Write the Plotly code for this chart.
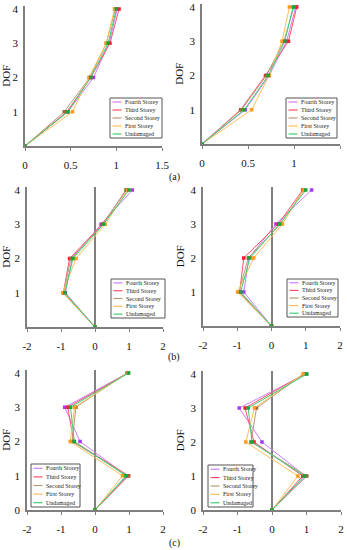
import plotly.graph_objects as go

W, H = 347, 550

series = ["Fourth Storey", "Third Storey", "Second Storey", "First Storey", "Undamaged"]
dof = [0, 1, 2, 3, 4]

a_left = {
    "Fourth Storey": [0, 0.47, 0.75, 0.92, 1.01],
    "Third Storey": [0, 0.46, 0.72, 0.93, 1.03],
    "Second Storey": [0, 0.43, 0.71, 0.89, 0.99],
    "First Storey": [0, 0.52, 0.70, 0.89, 0.98],
    "Undamaged": [0, 0.47, 0.72, 0.91, 1.00],
}
a_right = {
    "Fourth Storey": [0, 0.47, 0.73, 0.92, 1.02],
    "Third Storey": [0, 0.42, 0.69, 0.94, 1.03],
    "Second Storey": [0, 0.43, 0.70, 0.89, 1.00],
    "First Storey": [0, 0.54, 0.73, 0.87, 0.95],
    "Undamaged": [0, 0.46, 0.72, 0.90, 0.99],
}
b_left = {
    "Fourth Storey": [0, -0.87, -0.67, 0.18, 1.10],
    "Third Storey": [0, -0.93, -0.75, 0.22, 0.93],
    "Second Storey": [0, -0.92, -0.71, 0.24, 0.91],
    "First Storey": [0, -0.95, -0.56, 0.30, 0.96],
    "Undamaged": [0, -0.89, -0.65, 0.25, 1.00],
}
b_right = {
    "Fourth Storey": [0, -0.81, -0.66, 0.13, 1.17],
    "Third Storey": [0, -0.93, -0.81, 0.20, 0.91],
    "Second Storey": [0, -0.95, -0.68, 0.26, 0.95],
    "First Storey": [0, -0.99, -0.52, 0.32, 0.93],
    "Undamaged": [0, -0.90, -0.63, 0.24, 1.00],
}
c_left = {
    "Fourth Storey": [0, 0.94, -0.44, -0.89, 0.97],
    "Third Storey": [0, 0.99, -0.63, -0.80, 0.97],
    "Second Storey": [0, 0.97, -0.67, -0.56, 0.94],
    "First Storey": [0, 0.81, -0.73, -0.60, 0.97],
    "Undamaged": [0, 0.91, -0.61, -0.72, 0.99],
}
c_right = {
    "Fourth Storey": [0, 0.97, -0.29, -0.95, 0.99],
    "Third Storey": [0, 0.89, -0.52, -0.78, 0.94],
    "Second Storey": [0, 1.01, -0.61, -0.45, 0.92],
    "First Storey": [0, 0.75, -0.76, -0.51, 0.90],
    "Undamaged": [0, 0.94, -0.58, -0.69, 1.01],
}

x_ticks_a = [0, 0.5, 1, 1.5]
x_ticks_bc = [-2, -1, 0, 1, 2]
panel_labels = ["(a)", "(b)", "(c)"]

line_colors = {
    "Fourth Storey": "#cf7dff",
    "Third Storey": "#ff4f6a",
    "Second Storey": "#b89a7a",
    "First Storey": "#ffbe5c",
    "Undamaged": "#3fcf73",
}
marker_colors = {
    "Fourth Storey": "#a23cf0",
    "Third Storey": "#f0202e",
    "Second Storey": "#9a6a3a",
    "First Storey": "#ff9a1a",
    "Undamaged": "#12a83c",
}

SERIF = "Liberation Serif, Times New Roman, serif"
AXC = "#7f7f7f"

# panel geometry in pixels: (x_left_px, x_right_px, y0_px (DOF=0), y4_px (DOF=4))
panels = [
    (a_left, [0, 1.5], (25, 162, 146, 9), x_ticks_a, [1, 2, 3, 4], (110, 98, 162, 138)),
    (a_right, [0, 1.5], (202, 340, 144, 7), x_ticks_a, [1, 2, 3, 4], (286, 98, 337, 138)),
    (b_left, [-2, 2], (27, 163, 327, 190), x_ticks_bc, [1, 2, 3, 4], (111, 279, 165, 318)),
    (b_right, [-2, 2], (203, 340, 326, 190), x_ticks_bc, [1, 2, 3, 4], (287, 279, 338, 317)),
    (c_left, [-2, 2], (27, 163, 510, 373), x_ticks_bc, [0, 1, 2, 3, 4], (31, 464, 80, 507)),
    (c_right, [-2, 2], (203, 341, 510, 374), x_ticks_bc, [0, 1, 2, 3, 4], (208, 465, 253, 507)),
]

def px(x):
    return x / W

def py(y):
    return 1 - y / H

YTOP = 4.1
fig = go.Figure()
shapes = []
annotations = []

for i, (data, xr, (xl, xrp, y0, y4), xt, yt, lbox) in enumerate(panels):
    n = i + 1
    xa = "xaxis" if n == 1 else f"xaxis{n}"
    ya = "yaxis" if n == 1 else f"yaxis{n}"
    xref = "x" if n == 1 else f"x{n}"
    yref = "y" if n == 1 else f"y{n}"
    unit = (y0 - y4) / 4.0
    ytop_px = y0 - YTOP * unit
    for s in series:
        fig.add_trace(go.Scatter(
            x=data[s], y=dof, mode="lines+markers", name=s,
            line=dict(color=line_colors[s], width=1),
            marker=dict(symbol="square", size=3.5, color=marker_colors[s]),
            xaxis=xref, yaxis=yref, showlegend=False,
        ))
    fig.update_layout({
        xa: dict(domain=[px(xl), px(xrp)], range=xr, anchor=yref, automargin=False,
                 tickvals=xt, ticktext=[str(v) for v in xt],
                 showline=True, linecolor=AXC, linewidth=1.5,
                 ticks="outside", ticklen=3, tickcolor=AXC,
                 showgrid=False, zeroline=(xr[0] < 0), zerolinecolor=AXC, zerolinewidth=1.5,
                 tickfont=dict(family=SERIF, size=11, color="#111"),
                 ticklabelstandoff=5, fixedrange=True),
        ya: dict(domain=[py(y0), py(ytop_px)], range=[0, YTOP], anchor=xref, automargin=False,
                 tickvals=yt, ticktext=[str(v) for v in yt],
                 showline=True, linecolor=AXC, linewidth=1.5,
                 ticks="", showgrid=False, zeroline=False,
                 tickfont=dict(family=SERIF, size=11, color="#111"),
                 ticklabelstandoff=3,
                 title=dict(text="DOF", font=dict(family=SERIF, size=11, color="#111"), standoff=4),
                 fixedrange=True),
    })
    # legend box
    bx0, by0, bx1, by1 = lbox
    shapes.append(dict(type="rect", xref="paper", yref="paper",
                       x0=px(bx0), x1=px(bx1), y0=py(by1), y1=py(by0),
                       line=dict(color="#555", width=1), fillcolor="white", layer="above"))
    step = (by1 - by0) / 5.0
    for k, s in enumerate(series):
        yy = by0 + step * (k + 0.5)
        shapes.append(dict(type="line", xref="paper", yref="paper",
                           x0=px(bx0 + 2.5), x1=px(bx0 + 11.5), y0=py(yy), y1=py(yy),
                           line=dict(color=line_colors[s], width=1.2), layer="above"))
        annotations.append(dict(text=s, xref="paper", yref="paper", x=px(bx0 + 13), y=py(yy),
                                xanchor="left", yanchor="middle", showarrow=False,
                                font=dict(family=SERIF, size=6, color="#222")))

for lbl, yy in zip(panel_labels, [177, 357, 543]):
    annotations.append(dict(text=lbl, xref="paper", yref="paper", x=px(174), y=py(yy),
                            xanchor="center", yanchor="middle", showarrow=False,
                            font=dict(family=SERIF, size=10, color="#111")))

fig.update_layout(width=W, height=H, margin=dict(l=0, r=0, t=0, b=0, autoexpand=False),
                  plot_bgcolor="white", paper_bgcolor="white",
                  showlegend=False, shapes=shapes, annotations=annotations)

fig.write_html("out.html", config={"displayModeBar": False},
               post_script="document.body.style.margin='0';document.body.style.overflow='hidden';")
